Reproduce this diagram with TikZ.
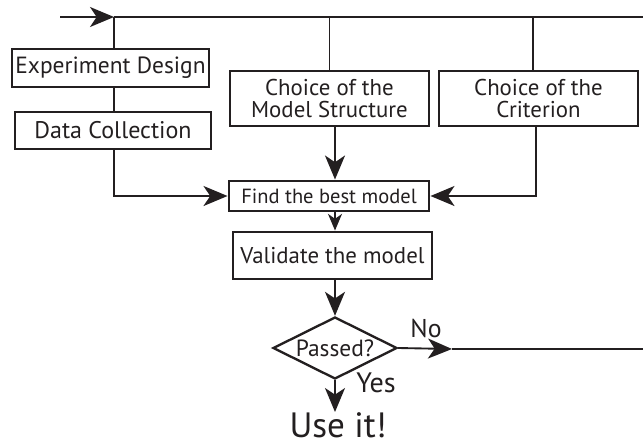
\documentclass[tikz,border=0pt]{standalone}
\usepackage{fontspec}
\setmainfont{PT Sans}
\usetikzlibrary{arrows.meta,positioning,shapes.geometric}
\definecolor{ink}{RGB}{35,31,32}

\begin{document}
\begin{tikzpicture}[
  x=0.03cm, y=-0.03cm,
  every node/.style={font=\fontsize{19.5}{19.5}\selectfont, text=ink},
  box/.style={draw=ink, line width=2.5pt, align=center, inner sep=0pt},
  line/.style={draw=ink, line width=1.6pt},
  arr/.style={line, -{Stealth[length=0.72cm, width=0.6cm, inset=0.2cm]}},
  sarr/.style={line, -{Stealth[length=0.5cm, width=0.42cm, inset=0.15cm]}}
]
  \useasboundingbox (0,0) rectangle (643,446);

  \node[box, minimum width=5.91cm, minimum height=1.14cm, font=\fontsize{20}{22}\selectfont] (expdesign) at (110.5,68) {Experiment Design};
  \node[box, minimum width=5.88cm, minimum height=1.11cm, font=\fontsize{20.5}{22}\selectfont] (datacoll) at (113,130.5) {Data Collection};
  \node[box, minimum width=5.97cm, minimum height=1.65cm] (modelstruct) at (329.5,98.5) {Choice of the\\Model Structure};
  \node[box, minimum width=5.97cm, minimum height=1.65cm] (criterion) at (538.5,98.5) {Choice of the\\Criterion};
  \node[box, minimum width=6cm, minimum height=0.9cm, font=\fontsize{17.5}{19}\selectfont] (findbest) at (329,196) {Find the best model};
  \node[box, minimum width=5.97cm, minimum height=1.41cm] (validate) at (332.5,255.5) {Validate the model};
  \node[diamond, draw=ink, line width=2pt, aspect=2, minimum width=3.72cm,
        minimum height=1.86cm, inner sep=0pt, font=\fontsize{20}{22}\selectfont] (passed) at (335,348) {Passed?};
  \node[anchor=north, inner sep=0pt, font=\fontsize{30}{32}\selectfont] (useit) at (338,412) {Use it!};
  \node[font=\fontsize{22}{24}\selectfont] (no) at (426,328) {No};
  \node[font=\fontsize{24}{26}\selectfont] (yes) at (376,383) {Yes};

  \coordinate (start) at (60,17);
  \coordinate (topjoin) at (114,17);
  \coordinate (topend) at (643,17);
  \coordinate (nomid) at (452,349);
  \coordinate (noend) at (643,349);

  \draw[arr] (start) -- (topjoin);
  \draw[line] (topjoin) -- (topend);
  \draw[line] (topjoin) -- (topjoin |- expdesign.north);
  \draw[line] (topjoin |- expdesign.south) -- (topjoin |- datacoll.north);
  \draw[arr] (topjoin |- datacoll.south) |- (findbest.west);
  \draw[line] (modelstruct.north) -- (modelstruct.north |- topend);
  \draw[line] ([xshift=-0.16cm]criterion.north) -- ([xshift=-0.16cm]criterion.north |- topend);
  \draw[arr] ([xshift=-0.07cm]criterion.south) |- (findbest.east);
  \draw[arr] (modelstruct.south -| passed) -- (findbest.north -| passed);
  \draw[sarr] (findbest.south -| passed) -- (validate.north -| passed);
  \draw[arr] (validate.south -| passed) -- (passed.north);
  \draw[arr] (passed.south) -- (useit.north -| passed);
  \draw[arr] (passed.east) -- (nomid);
  \draw[line] (nomid) -- (noend);
\end{tikzpicture}
\end{document}
